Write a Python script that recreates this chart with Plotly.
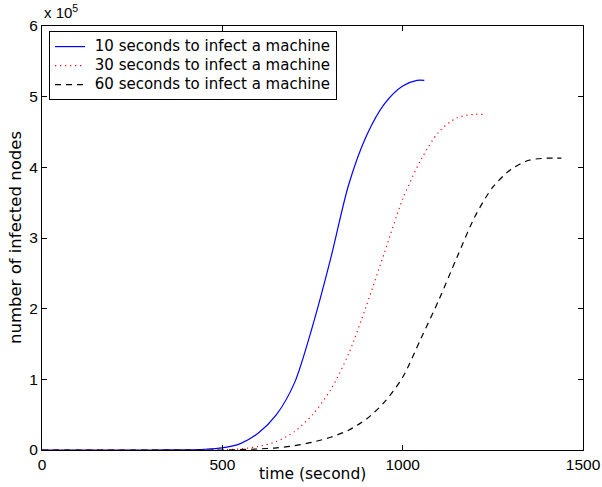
import plotly.graph_objects as go

# time (s) and infected nodes for each scenario
t10 = [0, 100, 200, 300, 400, 450, 500, 550, 600, 650, 700, 750, 800, 850, 900, 950, 1000, 1040, 1060]
v10 = [0, 0, 0, 0, 300, 1000, 3000, 9000, 24000, 50000, 95000, 175000, 270000, 375000, 445000, 490000,
       515000, 523000, 523000]

t30 = [0, 300, 450, 500, 550, 600, 650, 700, 750, 800, 850, 900, 950, 1000, 1050, 1100, 1150, 1200, 1222]
v30 = [0, 0, 0, 300, 1500, 5000, 12000, 26000, 50000, 85000, 136000, 205000, 280000, 355000, 410000,
       450000, 470000, 475000, 475000]

t60 = [0, 300, 500, 550, 600, 650, 700, 750, 800, 850, 900, 950, 1000, 1050, 1100, 1150, 1200, 1250, 1300,
       1350, 1400, 1440]
v60 = [0, 0, 0, 500, 1500, 3000, 6000, 11000, 18000, 28000, 44000, 68000, 103000, 157000, 212000, 272000,
       330000, 372000, 397000, 410000, 413000, 413000]

names = ["10 seconds to infect a machine", "30 seconds to infect a machine", "60 seconds to infect a machine"]

x_ticks = [0, 500, 1000, 1500]
y_ticks = [0, 100000, 200000, 300000, 400000, 500000, 600000]
y_ticktext = ["0", "1", "2", "3", "4", "5", "6"]

TICKFONT = "Liberation Sans, Arial, sans-serif"
TEXTFONT = "DejaVu Sans, sans-serif"


def legend_name(n):
    # larger visible text (with a small gap after the line sample) while keeping compact legend rows
    return f"<span style='font-size:15px'>\u00a0{n}</span>"


fig = go.Figure()
fig.add_trace(go.Scatter(x=t10, y=v10, mode="lines", name=legend_name(names[0]),
                         line=dict(color="#0000ff", width=1.2, shape="spline", smoothing=0.8)))
fig.add_trace(go.Scatter(x=t30, y=v30, mode="lines", name=legend_name(names[1]),
                         line=dict(color="#ff0000", width=1.2, dash="1.2px,3.8px", shape="spline", smoothing=0.8)))
fig.add_trace(go.Scatter(x=t60, y=v60, mode="lines", name=legend_name(names[2]),
                         line=dict(color="#000000", width=1.2, dash="6px,5px", shape="spline", smoothing=0.8)))

axis_common = dict(showgrid=False, zeroline=False, showline=True, linecolor="black", linewidth=1,
                   mirror="ticks", ticks="inside", ticklen=5, tickcolor="black", automargin=False,
                   tickfont=dict(family=TICKFONT, size=15.5, color="black"))

fig.update_layout(
    width=602, height=487,
    margin=dict(l=42, r=19, t=26, b=37, autoexpand=False),
    paper_bgcolor="white", plot_bgcolor="white",
    font=dict(family=TEXTFONT, size=15, color="black"),
    xaxis=dict(range=[0, 1500], tickvals=x_ticks, **axis_common),
    yaxis=dict(range=[0, 600000], tickvals=y_ticks, ticktext=y_ticktext, **axis_common),
    legend=dict(x=0.013, y=0.988, xanchor="left", yanchor="top", bordercolor="black", borderwidth=1,
                bgcolor="white", font=dict(family=TEXTFONT, size=12), tracegroupgap=0),
    showlegend=True,
)
# exponent label
fig.add_annotation(xref="paper", yref="paper", x=0.0, y=1.0, xanchor="left", yanchor="bottom",
                   text="x 10<sup>5</sup>", showarrow=False,
                   font=dict(family=TICKFONT, size=15), yshift=3)
# axis titles
fig.add_annotation(xref="paper", yref="paper", x=0.5, y=0, xanchor="center", yanchor="middle",
                   text="time (second)", showarrow=False, yshift=-24,
                   font=dict(family=TEXTFONT, size=15.5))
fig.add_annotation(xref="paper", yref="paper", x=0, y=0.5, xanchor="center", yanchor="middle",
                   text="number of infected nodes", showarrow=False, textangle=-90, xshift=-27,
                   font=dict(family=TEXTFONT, size=16.5))

fig.write_html("out.html")
